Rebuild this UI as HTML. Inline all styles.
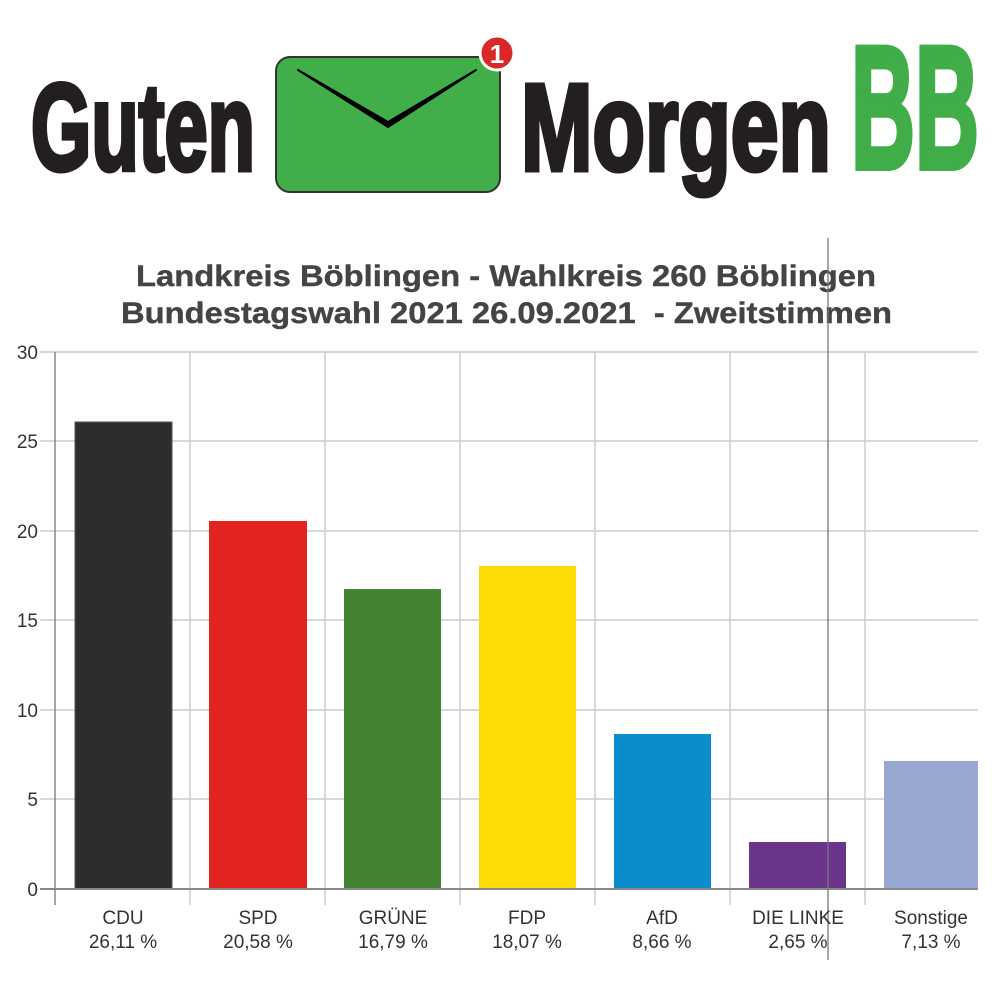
<!DOCTYPE html>
<html><head><meta charset="utf-8"><style>
html,body{margin:0;padding:0;background:#fff;width:1000px;height:1000px;overflow:hidden}
</style></head><body>
<svg width="1000" height="1000" viewBox="0 0 1000 1000" xmlns="http://www.w3.org/2000/svg" font-family="Liberation Sans, sans-serif">
<rect width="1000" height="1000" fill="#fff"/>
<!-- Logo -->
<text x="31" y="170" font-size="123" font-weight="bold" fill="#231f20" stroke="#231f20" stroke-width="5" textLength="224" lengthAdjust="spacingAndGlyphs">Guten</text>
<rect x="276" y="57" width="224" height="135" rx="14" fill="#42ae4a" stroke="#333" stroke-width="2"/>
<path d="M298 70 L388 122 L476 70 L388 127 Z" fill="#000" stroke="#000" stroke-width="2" stroke-linejoin="round"/>
<circle cx="497" cy="53" r="17" fill="#d9282a" stroke="#fff" stroke-width="3"/>
<text x="497" y="63" font-size="26" font-weight="bold" fill="#fff" text-anchor="middle">1</text>
<text x="521" y="170" font-size="123" font-weight="bold" fill="#231f20" stroke="#231f20" stroke-width="5" textLength="310" lengthAdjust="spacingAndGlyphs">Morgen</text>
<text x="851" y="168" font-size="175" font-weight="bold" fill="#40ad48" stroke="#40ad48" stroke-width="6" textLength="128" lengthAdjust="spacingAndGlyphs">BB</text>
<!-- Title -->
<g font-size="30" font-weight="bold" fill="#444" stroke="#444" stroke-width="0.4">
<text x="136" y="286" textLength="740" lengthAdjust="spacingAndGlyphs">Landkreis Böblingen - Wahlkreis 260 Böblingen</text>
<text x="121" y="323" textLength="771" lengthAdjust="spacingAndGlyphs" xml:space="preserve">Bundestagswahl 2021 26.09.2021  - Zweitstimmen</text>
</g>
<!-- grid -->
<g stroke="#ccc" stroke-width="1.5">
<line x1="40" y1="352" x2="978" y2="352"/>
<line x1="40" y1="441" x2="978" y2="441"/>
<line x1="40" y1="531" x2="978" y2="531"/>
<line x1="40" y1="620" x2="978" y2="620"/>
<line x1="40" y1="710" x2="978" y2="710"/>
<line x1="40" y1="799" x2="978" y2="799"/>
<line x1="190" y1="352" x2="190" y2="905"/>
<line x1="325" y1="352" x2="325" y2="905"/>
<line x1="460" y1="352" x2="460" y2="905"/>
<line x1="595" y1="352" x2="595" y2="905"/>
<line x1="730" y1="352" x2="730" y2="905"/>
<line x1="865" y1="352" x2="865" y2="905"/>
</g>
<!-- bars -->
<rect x="75" y="422" width="97" height="467" fill="#2f2d2c" stroke="#555" stroke-width="1"/>
<rect x="209" y="521" width="98" height="368" fill="#e3231f"/>
<rect x="344" y="589" width="97" height="300" fill="#428434"/>
<rect x="479" y="566" width="97" height="323" fill="#fcdc07"/>
<rect x="614" y="734" width="97" height="155" fill="#0b8ccd"/>
<rect x="749" y="842" width="97" height="47" fill="#6b358b"/>
<rect x="884" y="761" width="94" height="128" fill="#98a8d2"/>
<!-- axes -->
<line x1="55" y1="352" x2="55" y2="905" stroke="#888" stroke-width="1.5"/>
<line x1="40" y1="889" x2="978" y2="889" stroke="#888" stroke-width="2"/>
<line x1="828" y1="238" x2="828" y2="960" stroke="#777" stroke-width="1.3"/>
<g font-size="19" fill="#333" text-anchor="end">
<text x="38" y="359">30</text><text x="38" y="448">25</text><text x="38" y="538">20</text>
<text x="38" y="627">15</text><text x="38" y="717">10</text><text x="38" y="806">5</text><text x="38" y="896">0</text>
</g>
<g font-size="19" fill="#333" text-anchor="middle">
<text x="123" y="924">CDU</text><text x="123" y="948">26,11 %</text>
<text x="258" y="924">SPD</text><text x="258" y="948">20,58 %</text>
<text x="393" y="924">GRÜNE</text><text x="393" y="948">16,79 %</text>
<text x="527" y="924">FDP</text><text x="527" y="948">18,07 %</text>
<text x="662" y="924">AfD</text><text x="662" y="948">8,66 %</text>
<text x="798" y="924">DIE LINKE</text><text x="798" y="948">2,65 %</text>
<text x="931" y="924">Sonstige</text><text x="931" y="948">7,13 %</text>
</g>
</svg>
</body></html>
